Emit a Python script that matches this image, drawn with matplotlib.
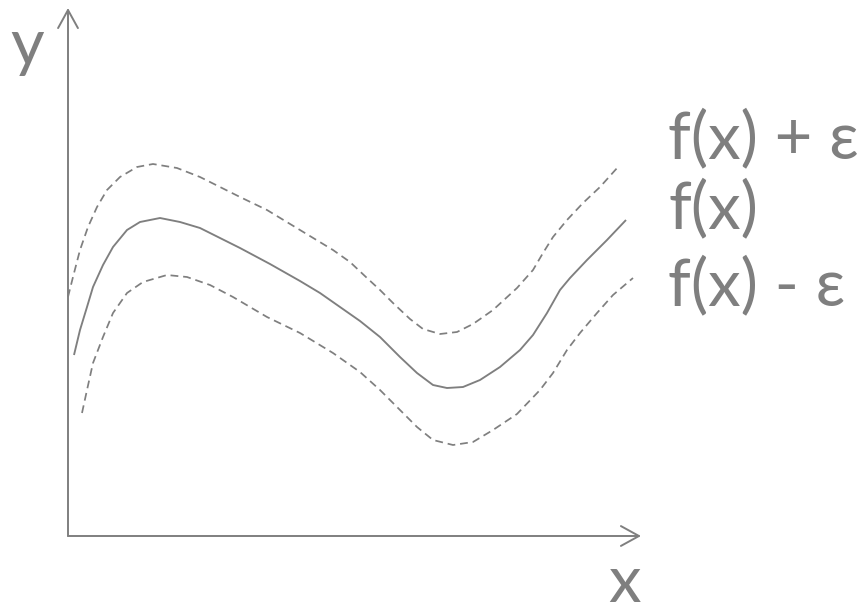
import matplotlib
matplotlib.use("Agg")
import matplotlib.pyplot as plt

# f(x) curve (origin at the axes corner)
f_x = [6, 12, 19, 25, 35, 45, 59, 72, 92, 112, 132, 142, 172, 202, 232, 252, 272, 292, 312, 332,
       349, 365, 379, 395, 412, 432, 452, 465, 479, 492, 502, 519, 539, 558]
f_y = [181, 206, 229, 249, 271, 289, 306, 314, 318, 314, 308, 303, 288, 272, 255, 243, 229, 215, 199, 179,
       163, 151, 148, 149, 156, 169, 186, 201, 223, 246, 258, 276, 296, 316]

# f(x) + eps
up_x = [0, 5, 12, 20, 29, 39, 52, 69, 85, 109, 132, 142, 172, 199, 232, 265, 282, 299, 312, 325,
        342, 355, 372, 389, 405, 425, 449, 465, 475, 485, 499, 515, 532, 550]
up_y = [239, 259, 286, 309, 329, 346, 359, 369, 372, 368, 359, 354, 339, 326, 306, 286, 274, 258, 246, 233,
        217, 207, 202, 204, 212, 226, 248, 266, 283, 299, 316, 333, 349, 369]

# f(x) - eps
lo_x = [14, 19, 25, 35, 45, 59, 75, 99, 119, 142, 165, 199, 232, 265, 292, 312, 332, 349, 365, 385,
        405, 425, 449, 472, 485, 499, 512, 529, 545, 565]
lo_y = [123, 146, 173, 199, 223, 243, 254, 261, 259, 251, 239, 219, 203, 183, 164, 146, 126, 109, 96, 91,
        94, 106, 122, 146, 163, 186, 203, 223, 241, 258]

labels = ["f(x) + ε", "f(x)", "f(x) - ε"]
label_y = [378, 308, 231]

GRAY = "#7f7f7f"
FONT = "Lato"
FS = 47

fig = plt.figure(figsize=(8.63, 6.12), dpi=100)
ax = fig.add_axes([0, 0, 1, 1])
ax.set_xlim(-68, 795)
ax.set_ylim(-76, 536)
ax.axis("off")

# axes with open arrowheads
arrow = dict(arrowstyle="->,head_length=1.0,head_width=0.55", color=GRAY, lw=1.4,
             mutation_scale=13, shrinkA=0, shrinkB=0)
ax.annotate("", xy=(0, 528), xytext=(0, 0), arrowprops=arrow)
ax.annotate("", xy=(573, 0), xytext=(0, 0), arrowprops=arrow)

ax.plot(f_x, f_y, color=GRAY, lw=1.35, solid_capstyle="butt", solid_joinstyle="round")
ax.plot(up_x, up_y, color=GRAY, lw=1.25, dashes=(4.5, 2.8))
ax.plot(lo_x, lo_y, color=GRAY, lw=1.25, dashes=(4.5, 2.8))

ax.text(-41, 471, "y", color=GRAY, fontsize=FS, family=FONT, ha="center", va="baseline")
ax.text(556, -66, "x", color=GRAY, fontsize=FS, family=FONT, ha="center", va="baseline")
for lab, yy in zip(labels, label_y):
    ax.text(600, yy, lab, color=GRAY, fontsize=FS, family=FONT, ha="left", va="baseline")

fig.savefig("out.png", dpi=100)
